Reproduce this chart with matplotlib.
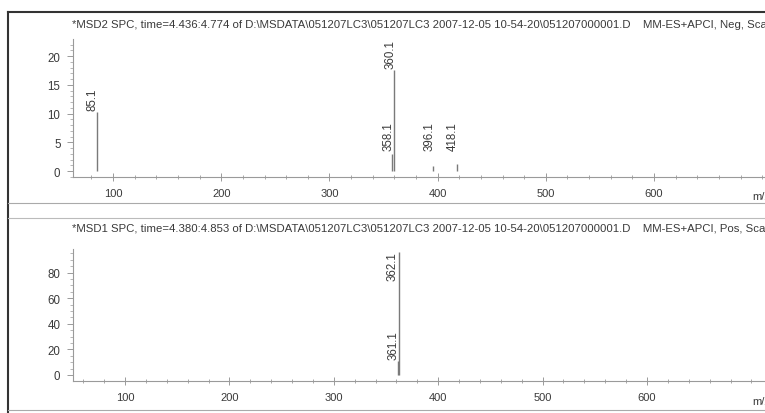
import matplotlib
matplotlib.use("Agg")
import matplotlib.pyplot as plt
from matplotlib.lines import Line2D
from matplotlib.ticker import MultipleLocator
from matplotlib import transforms

W, H = 765, 414

# ---- data ----
neg_title = r"*MSD2 SPC, time=4.436:4.774 of D:\MSDATA\051207LC3\051207LC3 2007-12-05 10-54-20\051207000001.D    MM-ES+APCI, Neg, Scan"
neg_mz = [85.1, 358.1, 360.1, 396.1, 418.1]
neg_int = [10.3, 3.0, 17.6, 0.8, 1.2]
neg_yticks = [0, 5, 10, 15, 20]

pos_title = r"*MSD1 SPC, time=4.380:4.853 of D:\MSDATA\051207LC3\051207LC3 2007-12-05 10-54-20\051207000001.D    MM-ES+APCI, Pos, Scan"
pos_mz = [361.1, 362.1]
pos_int = [11.0, 96.0]
pos_yticks = [0, 20, 40, 60, 80]

xticks = [100, 200, 300, 400, 500, 600]

plt.rcParams['font.family'] = ['Liberation Sans', 'DejaVu Sans']
TXT = '#3a3a3a'
AX = '#9a9a9a'
PK = '#7a7a7a'

fig = plt.figure(figsize=(W / 100, H / 100), dpi=100)
fig.patch.set_facecolor('white')


def fx(px):
    return px / W


def fy(py):
    return 1 - py / H


def make_ax(left, top, bottom, xlim, ylim, yticks, yminor, mz, inten, title, title_y, label_min):
    ax = fig.add_axes([fx(left), fy(bottom), fx(W - left), (bottom - top) / H])
    ax.set_facecolor('none')
    ax.set_xlim(*xlim)
    ax.set_ylim(*ylim)
    for s in ['top', 'right']:
        ax.spines[s].set_visible(False)
    for s in ['left', 'bottom']:
        ax.spines[s].set_color(AX)
        ax.spines[s].set_linewidth(0.8)
    ax.set_xticks(xticks)
    ax.set_yticks(yticks)
    ax.xaxis.set_minor_locator(MultipleLocator(20))
    ax.yaxis.set_minor_locator(MultipleLocator(yminor))
    ax.tick_params(axis='x', which='major', direction='inout', length=6, width=0.7,
                   color=AX, labelsize=8, labelcolor=TXT, pad=5)
    ax.tick_params(axis='x', which='minor', direction='inout', length=3, width=0.6, color=AX)
    ax.tick_params(axis='y', which='major', direction='out', length=4, width=0.7,
                   color=AX, labelsize=8.3, labelcolor=TXT, pad=5)
    ax.tick_params(axis='y', which='minor', direction='out', length=2, width=0.5, color=AX)
    ax.vlines(mz, 0, inten, colors=PK, linewidth=1.0)
    off = transforms.offset_copy(ax.transData, fig=fig, x=-4, y=2, units='dots')
    for m, h in zip(mz, inten):
        if h > 0.85 * ylim[1]:
            t = transforms.offset_copy(ax.transData, fig=fig, x=-6, y=-2, units='dots')
            ax.text(m, ylim[1], f"{m:.1f}", rotation=90, ha='center', va='top',
                    fontsize=8.3, color=TXT, transform=t)
        else:
            ax.text(m, max(h, label_min), f"{m:.1f}", rotation=90, ha='center', va='bottom',
                    fontsize=8.3, color=TXT, transform=off)
    fig.text(fx(left - 1), fy(title_y), title, ha='left', va='center', fontsize=8.2, color=TXT)
    return ax


ax1 = make_ax(73, 40, 178, (63.0, 702.6), (-1.04, 22.96), neg_yticks, 1, neg_mz, neg_int,
              neg_title, 25, 3.3)
ax2 = make_ax(73, 250, 382, (50.2, 713.0), (-4.7, 98.4), pos_yticks, 5, pos_mz, pos_int,
              pos_title, 229, 0)

fig.text(fx(752), fy(197), "m/z", ha='left', va='center', fontsize=8, color=TXT)
fig.text(fx(752), fy(402), "m/z", ha='left', va='center', fontsize=8, color=TXT)

# frame lines
fig.add_artist(Line2D([fx(8), 1], [fy(13), fy(13)], color='#333333', linewidth=1.5))
fig.add_artist(Line2D([fx(8), fx(8)], [fy(13), 0], color='#333333', linewidth=1.5))
fig.add_artist(Line2D([fx(8), 1], [fy(204), fy(204)], color='#aaaaaa', linewidth=0.8))
fig.add_artist(Line2D([fx(8), 1], [fy(219), fy(219)], color='#bbbbbb', linewidth=0.8))
fig.add_artist(Line2D([fx(8), 1], [fy(411), fy(411)], color='#aaaaaa', linewidth=0.8))

fig.savefig("out.png", dpi=100)
